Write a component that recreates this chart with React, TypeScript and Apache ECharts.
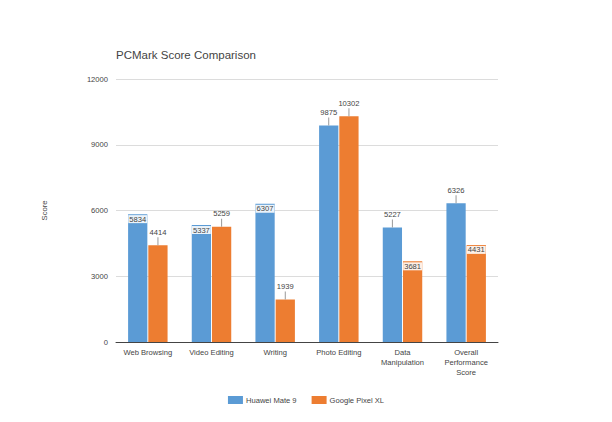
import React, { useEffect, useRef } from "react";
import * as echarts from "echarts";

const categories = [
  "Web Browsing",
  "Video Editing",
  "Writing",
  "Photo Editing",
  "Data\nManipulation",
  "Overall\nPerformance\nScore",
];
const huaweiMate9 = [5834, 5337, 6307, 9875, 5227, 6326];
const googlePixelXL = [4414, 5259, 1939, 10302, 3681, 4431];
const yTicks = [0, 3000, 6000, 9000, 12000];

// indices whose value label sits inside the bar top
const huaweiInside = [0, 1, 2];
const pixelInside = [4, 5];

const FONT = "'Liberation Sans', Arial, sans-serif";
const TEXT = "#444";
const FS = 7.6;

function buildData(values: number[], inside: number[]) {
  return values.map((v, i) =>
    inside.includes(i)
      ? {
          value: v,
          label: {
            position: "insideTop",
            distance: 1,
            formatter: "{c}",
            backgroundColor: "rgba(255,255,255,0.88)",
            padding: [0, 1, 0, 1],
            lineHeight: 8,
            color: TEXT,
          },
        }
      : { value: v }
  );
}

const outsideLabel = {
  show: true,
  position: "top",
  distance: 0,
  color: TEXT,
  fontFamily: FONT,
  fontSize: FS,
  lineHeight: 10,
  formatter: (p: any) => `${p.value}\n{l| }`,
  rich: {
    l: { width: 1, height: 8, lineHeight: 8, backgroundColor: "#999", fontSize: 1 },
  },
};

export default function App() {
  const ref = useRef<HTMLDivElement>(null);
  useEffect(() => {
    if (!ref.current) return;
    const chart = echarts.init(ref.current, undefined, { renderer: "svg" });
    chart.setOption({
      animation: false,
      backgroundColor: "#fff",
      textStyle: { fontFamily: FONT },
      title: {
        text: "PCMark Score Comparison",
        left: 116,
        top: 49,
        padding: 0,
        textStyle: { fontFamily: FONT, fontSize: 11.5, fontWeight: "normal", color: TEXT },
      },
      grid: { left: 116, right: 114, top: 79, bottom: 80, containLabel: false },
      legend: {
        bottom: 13,
        left: "center",
        itemWidth: 15,
        itemHeight: 8,
        itemGap: 15,
        icon: "rect",
        textStyle: { fontFamily: FONT, fontSize: FS, color: TEXT, padding: [0, 0, 0, -2] },
        data: ["Huawei Mate 9", "Google Pixel XL"],
      },
      xAxis: {
        type: "category",
        data: categories,
        axisLine: { lineStyle: { color: "#444", width: 1 } },
        axisTick: { show: false },
        axisLabel: {
          color: TEXT,
          fontFamily: FONT,
          fontSize: FS,
          lineHeight: 10,
          margin: 5,
          interval: 0,
        },
      },
      yAxis: {
        type: "value",
        min: yTicks[0],
        max: yTicks[yTicks.length - 1],
        interval: yTicks[1] - yTicks[0],
        name: "Score",
        nameLocation: "middle",
        nameRotate: 90,
        nameGap: 68,
        nameTextStyle: { color: TEXT, fontFamily: FONT, fontSize: FS },
        axisLine: { show: false },
        axisTick: { show: false },
        axisLabel: {
          color: TEXT,
          fontFamily: FONT,
          fontSize: FS,
          margin: 8,
          formatter: (v: number) => String(v),
        },
        splitLine: { lineStyle: { color: "#dcdcdc", width: 1 } },
      },
      series: [
        {
          name: "Huawei Mate 9",
          type: "bar",
          data: buildData(huaweiMate9, huaweiInside),
          itemStyle: { color: "#5b9bd5" },
          barGap: "5%",
          barCategoryGap: "38%",
          label: outsideLabel,
        },
        {
          name: "Google Pixel XL",
          type: "bar",
          data: buildData(googlePixelXL, pixelInside),
          itemStyle: { color: "#ed7d31" },
          barGap: "5%",
          barCategoryGap: "38%",
          label: outsideLabel,
        },
      ],
    });
    return () => chart.dispose();
  }, []);
  return (
    <div
      ref={ref}
      style={{ position: "fixed", left: 0, top: 0, width: 612, height: 422 }}
    />
  );
}
